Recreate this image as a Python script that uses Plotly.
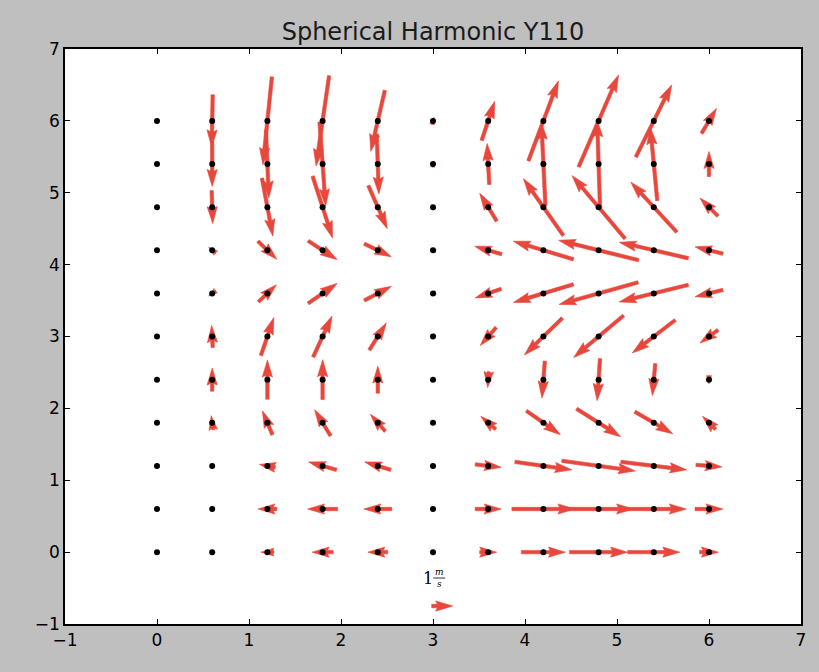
import numpy as np
import plotly.graph_objects as go

# ---------------- data ----------------
x_vals = [0.0, 0.6, 1.2, 1.8, 2.4, 3.0, 3.6, 4.2, 4.8, 5.4, 6.0]
y_vals = [0.0, 0.6, 1.2, 1.8, 2.4, 3.0, 3.6, 4.2, 4.8, 5.4, 6.0]

# U[j][i], V[j][i]: velocity components (m/s) at (x_vals[i], y_vals[j])
U = [
    [0, 0, -0.62, -1.00, -0.95, 0, 0.81, 2.10, 2.76, 2.48, 0.90],
    [0, 0, -0.90, -1.43, -1.33, 0, 1.24, 3.00, 3.33, 3.10, 1.33],
    [0, 0, -0.76, -1.33, -1.24, 0, 1.24, 2.71, 3.50, 3.14, 1.24],
    [0, -0.10, -0.48, -0.76, -0.71, 0, -0.71, 1.62, 2.10, 1.81, -0.62],
    [0, 0, 0, 0, 0, 0, -0.05, -0.14, -0.14, -0.14, 0],
    [0, -0.05, 0.62, 0.90, 0.81, -0.18, -0.76, -1.81, -2.38, -2.05, -0.86],
    [0, -0.34, 0.86, 1.38, 1.29, -0.26, -1.24, -2.86, -3.76, -3.29, -1.33],
    [0, -0.34, 0.90, 1.38, 1.29, -0.26, -1.29, -2.86, -3.81, -3.29, -1.33],
    [0, 0.05, 0.52, 0.95, 0.90, -0.16, -0.81, -1.90, -2.52, -2.19, -0.86],
    [0, 0, 0.14, 0.29, 0.10, 0.05, -0.10, -0.19, -0.14, -0.33, 0],
    [0, -0.05, -0.43, -0.62, -0.67, 0.10, 0.62, 1.43, 1.90, 1.71, 0.71],
]
V = [
    [0, 0, 0, 0, 0, 0, 0, 0, 0, 0, 0],
    [0, 0, 0, 0, 0, 0, 0, 0, 0, 0, 0],
    [0, 0, 0.14, 0.38, 0.38, 0, -0.14, -0.38, -0.48, -0.38, -0.10],
    [0, 0.67, 1.14, 1.24, 0.81, 0, 0.62, -1.14, -1.33, -1.05, 0.62],
    [0, 1.10, 1.86, 1.90, 1.29, 0, -0.76, -1.76, -2.00, -1.52, -0.40],
    [0, 1.05, 1.81, 1.95, 1.29, -0.18, -0.86, -1.76, -2.00, -1.57, -0.62],
    [0, -0.26, 0.81, 0.95, 0.67, -0.10, -0.43, -0.86, -1.05, -0.81, -0.33],
    [0, 0.28, -0.86, -0.90, -0.62, 0.10, 0.38, 0.86, 0.95, 0.76, 0.33],
    [0, -1.57, -2.76, -2.95, -2.05, 0.22, 1.33, 2.71, 3.00, 2.38, 0.86],
    [0, -2.14, -3.24, -4.00, -2.86, 0.30, 1.95, 3.95, 4.19, 3.48, 1.19],
    [0, -2.48, -4.19, -4.29, -2.90, 0.34, 1.86, 3.81, 4.38, 3.43, 1.19],
]

key_x, key_y, key_u = 3.1, -0.75, 1.0
title_text = "Spherical Harmonic Y110"
x_ticks = [-1, 0, 1, 2, 3, 4, 5, 6, 7]
y_ticks = [-1, 0, 1, 2, 3, 4, 5, 6, 7]

# ---------------- layout geometry ----------------
W, H = 819, 672
ML, MR, MT, MB = 65, 18, 49, 48
xr = [-1, 7]
yr = [-1, 7]
pxx = (W - ML - MR) / (xr[1] - xr[0])
pxy = (H - MT - MB) / (yr[1] - yr[0])

RED = "#e8473b"
SCALE_PX = 21.0      # pixels per 1 m/s
SHAFT = 3.4          # shaft width px
HL, HAL, HW = 5 * SHAFT, 4.5 * SHAFT, 3 * SHAFT


def arrow_poly(x0, y0, u, v):
    dx, dy = u * SCALE_PX, v * SCALE_PX
    length = float(np.hypot(dx, dy))
    if length < 0.8:
        return None
    ln = max(length, HL)
    pts = np.array([
        (0, -SHAFT / 2), (ln - HAL, -SHAFT / 2), (ln - HL, -HW / 2), (ln, 0),
        (ln - HL, HW / 2), (ln - HAL, SHAFT / 2), (0, SHAFT / 2), (0, -SHAFT / 2)
    ], dtype=float)
    if length < HL:
        pts *= length / HL
    pts[:, 0] -= length / 2.0   # pivot middle
    ang = np.arctan2(dy, dx)
    c, s = np.cos(ang), np.sin(ang)
    px = pts[:, 0] * c - pts[:, 1] * s
    py = pts[:, 0] * s + pts[:, 1] * c
    return x0 + px / pxx, y0 + py / pxy


xs, ys = [], []
for j, yv in enumerate(y_vals):
    for i, xv in enumerate(x_vals):
        r = arrow_poly(xv, yv, U[j][i], V[j][i])
        if r is None:
            continue
        xs += list(r[0]) + [None]
        ys += list(r[1]) + [None]
r = arrow_poly(key_x, key_y, key_u, 0.0)
xs += list(r[0]) + [None]
ys += list(r[1]) + [None]

fig = go.Figure()
fig.add_trace(go.Scatter(
    x=xs, y=ys, mode="lines", fill="toself", fillcolor=RED,
    line=dict(color=RED, width=0.6), hoverinfo="skip", showlegend=False,
))

gx, gy = np.meshgrid(x_vals, y_vals)
fig.add_trace(go.Scatter(
    x=gx.ravel(), y=gy.ravel(), mode="markers",
    marker=dict(color="black", size=6), showlegend=False,
))

# quiver key label "1 m/s" as a fraction
lab_y = key_y + 28 / pxy
fig.add_annotation(x=key_x - 14 / pxx, y=lab_y, text="1", showarrow=False,
                   font=dict(family="DejaVu Serif", size=16, color="black"),
                   xanchor="center", yanchor="middle")
fig.add_annotation(x=key_x - 3 / pxx, y=lab_y + 6 / pxy, text="<i>m</i>", showarrow=False,
                   font=dict(family="DejaVu Serif", size=9, color="black"),
                   xanchor="center", yanchor="middle")
fig.add_annotation(x=key_x - 3 / pxx, y=lab_y - 6 / pxy, text="<i>s</i>", showarrow=False,
                   font=dict(family="DejaVu Serif", size=9, color="black"),
                   xanchor="center", yanchor="middle")
fig.add_shape(type="line", x0=key_x - 9 / pxx, x1=key_x + 3 / pxx,
              y0=lab_y, y1=lab_y, line=dict(color="black", width=0.8))

axis_common = dict(
    showgrid=False, zeroline=False, showline=True, linecolor="black", linewidth=1.5,
    mirror="allticks", ticks="inside", ticklen=5, tickcolor="black", tickwidth=1,
    tickfont=dict(family="DejaVu Sans", size=17, color="black"),
)
fig.update_xaxes(range=xr, tickvals=x_ticks, **axis_common)
fig.update_yaxes(range=yr, tickvals=y_ticks, **axis_common)

fig.update_layout(
    width=W, height=H,
    margin=dict(l=ML, r=MR, t=MT, b=MB, pad=0),
    paper_bgcolor="#bfbfbf", plot_bgcolor="white",
    title=dict(text=title_text, x=(ML + (W - ML - MR) / 2) / W, xanchor="center",
               y=1 - 32 / H, yanchor="middle",
               font=dict(family="DejaVu Sans", size=24, color="#1a1a1a")),
    showlegend=False,
)

fig.write_html("out.html")
